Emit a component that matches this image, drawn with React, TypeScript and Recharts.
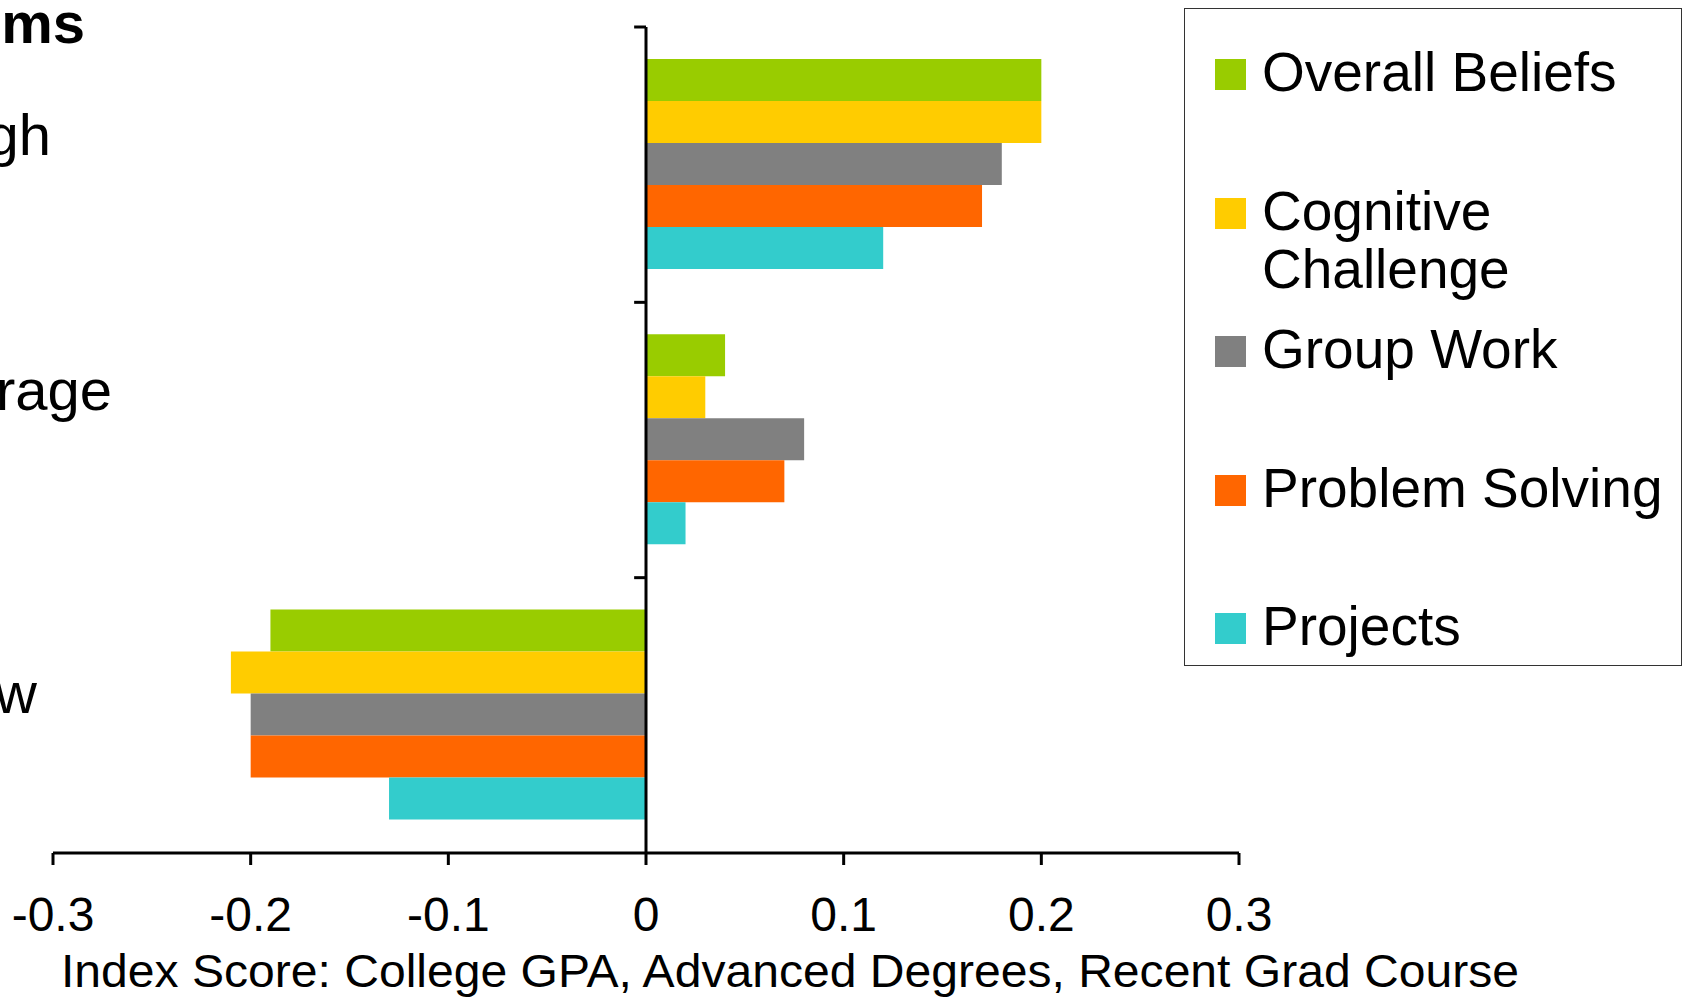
import React from 'react';
import { BarChart, Bar, XAxis, YAxis, ReferenceLine, Legend } from 'recharts';

const categories = ['High', 'Average', 'Low'];
const seriesNames = ['Overall Beliefs', 'Cognitive Challenge', 'Group Work', 'Problem Solving', 'Projects'];
const seriesKeys = ['overall', 'cognitive', 'group', 'problem', 'projects'];
const seriesColors = ['#99CC00', '#FFCC00', '#808080', '#FF6600', '#33CCCC'];
const overallBeliefs = [0.2, 0.04, -0.19];
const cognitiveChallenge = [0.2, 0.03, -0.21];
const groupWork = [0.18, 0.08, -0.2];
const problemSolving = [0.17, 0.07, -0.2];
const projects = [0.12, 0.02, -0.13];
const xTicks = [-0.3, -0.2, -0.1, 0, 0.1, 0.2, 0.3];
const titleText = 'Items';
const xAxisTitle = 'Index Score: College GPA, Advanced Degrees, Recent Grad Course';

const seriesValues = [overallBeliefs, cognitiveChallenge, groupWork, problemSolving, projects];

const data = categories.map((name, i) => {
  const row: Record<string, number | string> = { name };
  seriesKeys.forEach((k, s) => {
    row[k] = seriesValues[s][i];
  });
  return row;
});

const FONT = '"Liberation Sans", Arial, Helvetica, sans-serif';

// label layout (style only)
const LABEL_END_X = [51, 112, 37];
const LABEL_DY = [-9.7, -30, -2.3];

const renderCategoryTick = (props: any) => {
  const { y, payload } = props;
  const idx = categories.indexOf(payload?.value);
  return (
    <text
      key={'cat-' + idx}
      x={LABEL_END_X[idx] ?? 40}
      y={Number(y) + (LABEL_DY[idx] ?? 0)}
      textAnchor="end"
      fontSize={58}
      fontFamily={FONT}
      fill="#000"
    >
      {payload?.value}
    </text>
  );
};

const renderLegend = () => (
  <div
    style={{
      boxSizing: 'border-box',
      width: 498,
      height: 658,
      border: '1px solid #333',
      position: 'relative',
      background: '#fff',
      fontFamily: FONT,
      color: '#000',
    }}
  >
    {seriesNames.map((name, i) => {
      const center = 66.5 + i * 138.5 - 1;
      return (
        <React.Fragment key={name}>
          <div
            style={{
              position: 'absolute',
              left: 30,
              top: center - 15.5,
              width: 31,
              height: 31,
              background: seriesColors[i],
            }}
          />
          <div
            style={{
              position: 'absolute',
              left: 77,
              top: center - 31.5,
              width: 412,
              fontSize: 55,
              lineHeight: '58px',
              whiteSpace: 'normal',
            }}
          >
            {name}
          </div>
        </React.Fragment>
      );
    })}
  </div>
);

export default function App() {
  return (
    <div style={{ position: 'absolute', left: 0, top: 0, width: 1687, height: 997, background: '#fff', overflow: 'hidden' }}>
      <BarChart
        width={1687}
        height={997}
        data={data}
        layout="vertical"
        margin={{ top: 27, right: 448, bottom: 0, left: 50 }}
        barCategoryGap="11.6%"
        barGap={0}
      >
        <XAxis
          type="number"
          domain={[-0.3, 0.3]}
          ticks={xTicks}
          interval={0}
          allowDataOverflow
          height={144}
          tickSize={12}
          tickMargin={32}
          axisLine={{ stroke: '#000', strokeWidth: 3 }}
          tickLine={{ stroke: '#000', strokeWidth: 3 }}
          tick={{ fill: '#000', fontSize: 48, fontFamily: FONT }}
          tickFormatter={(v: number) => String(v)}
        />
        <YAxis
          type="category"
          dataKey="name"
          width={3}
          axisLine={false}
          tickLine={false}
          interval={0}
          tick={renderCategoryTick}
        />
        <Legend
          layout="vertical"
          align="center"
          verticalAlign="middle"
          content={renderLegend}
          wrapperStyle={{ left: 1184, top: 8, width: 498, height: 658 }}
        />
        {seriesKeys.map((k, i) => (
          <Bar key={k} dataKey={k} name={seriesNames[i]} fill={seriesColors[i]} isAnimationActive={false} />
        ))}
        <ReferenceLine x={0} stroke="#000" strokeWidth={3} />
        {categories.map((c) => (
          <ReferenceLine
            key={'tick-' + c}
            segment={[{ x: -0.006, y: c }, { x: 0, y: c }]}
            position="start"
            stroke="#000"
            strokeWidth={3}
            ifOverflow="visible"
          />
        ))}
        <text x={85} y={43} textAnchor="end" fontSize={58} fontWeight="bold" fontFamily={FONT} fill="#000">
          {titleText}
        </text>
        <text
          x={790}
          y={987}
          textAnchor="middle"
          fontSize={46}
          fontFamily={FONT}
          fill="#000"
          textLength={1458}
          lengthAdjust="spacingAndGlyphs"
        >
          {xAxisTitle}
        </text>
      </BarChart>
    </div>
  );
}
